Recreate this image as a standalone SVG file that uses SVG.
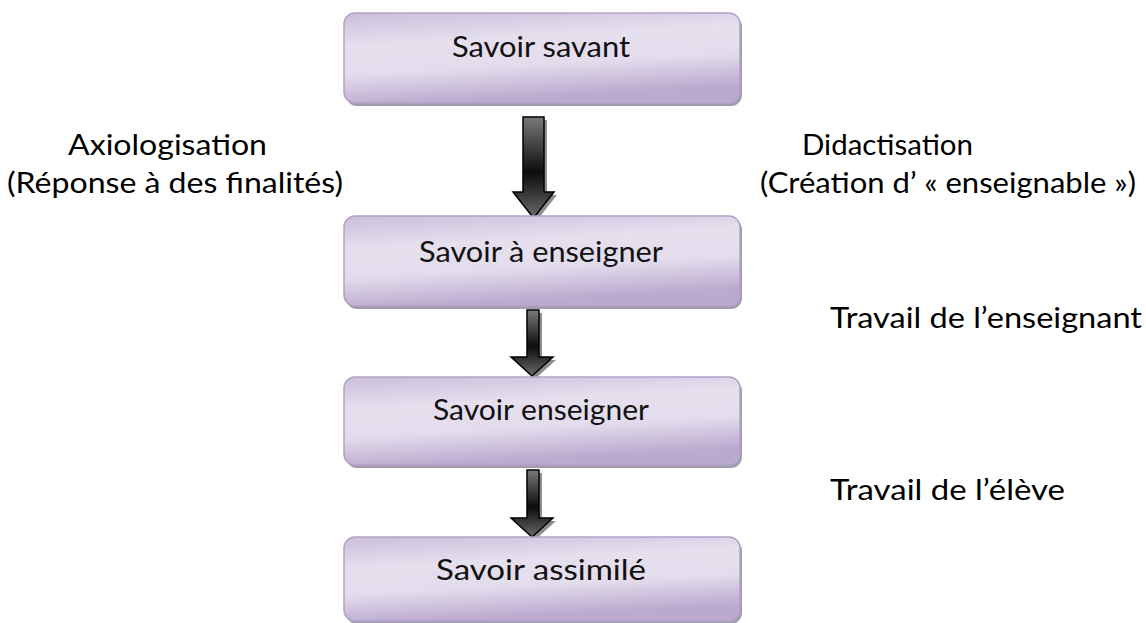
<svg xmlns="http://www.w3.org/2000/svg" width="1146" height="623" viewBox="0 0 1146 623">
  <defs>
    <linearGradient id="boxFill" x1="0" y1="0" x2="0.25" y2="1">
      <stop offset="0" stop-color="#cbbedb"/>
      <stop offset="0.35" stop-color="#e5dfee"/>
      <stop offset="0.65" stop-color="#e3dcec"/>
      <stop offset="1" stop-color="#bba9cf"/>
    </linearGradient>
    <linearGradient id="arrowFill" x1="0" y1="0" x2="0" y2="1">
      <stop offset="0" stop-color="#7a7a7a"/>
      <stop offset="0.55" stop-color="#0c0c0c"/>
      <stop offset="1" stop-color="#6a6a6a"/>
    </linearGradient>
  </defs>
  <style>
    .shadow { fill: #a19cab; }
    .box { fill: url(#boxFill); stroke: #b3a3c8; stroke-width: 1.5; }
    .label { font-family: Lato, "Open Sans", "Liberation Sans", sans-serif; font-size: 28px; fill: #111; }
    .side { font-family: Lato, "Open Sans", "Liberation Sans", sans-serif; font-size: 28px; fill: #000; }
    .arrow { fill: url(#arrowFill); stroke: #000; stroke-width: 1.5; stroke-linejoin: miter; }
    .arrow-shadow { fill: #8f8f8f; }
  </style>

  <rect width="1146" height="623" fill="#ffffff"/>

  <!-- connectors -->
  <g id="connectors">
    <g id="arrow-1">
      <path class="arrow-shadow" d="M526,120 H547 V195 H557 L536.5,221 L516,195 H526 Z"/>
      <path class="arrow" d="M523,117 H544 V192 H554 L533.5,218 L513,192 H523 Z"/>
    </g>
    <g id="arrow-2">
      <path class="arrow-shadow" d="M530,313 H542 V360 H556 L535,379 L514,360 H530 Z"/>
      <path class="arrow" d="M527,310 H539 V357 H553 L532,376 L511,357 H527 Z"/>
    </g>
    <g id="arrow-3">
      <path class="arrow-shadow" d="M530,473 H542 V521 H556 L535,540 L514,521 H530 Z"/>
      <path class="arrow" d="M527,470 H539 V518 H553 L532,537 L511,518 H527 Z"/>
    </g>
  </g>

  <!-- stages -->
  <g id="node-savant">
    <rect class="shadow" x="346" y="16" width="396" height="90" rx="11"/>
    <rect class="box" x="344" y="13" width="396" height="90" rx="11"/>
    <text class="label" x="541" y="57" text-anchor="middle" textLength="178" lengthAdjust="spacingAndGlyphs">Savoir savant</text>
  </g>
  <g id="node-a-enseigner">
    <rect class="shadow" x="346" y="219" width="396" height="90" rx="11"/>
    <rect class="box" x="344" y="216" width="396" height="90" rx="11"/>
    <text class="label" x="541" y="262" text-anchor="middle" textLength="244" lengthAdjust="spacingAndGlyphs">Savoir à enseigner</text>
  </g>
  <g id="node-enseigner">
    <rect class="shadow" x="346" y="380" width="396" height="88" rx="11"/>
    <rect class="box" x="344" y="377" width="396" height="88" rx="11"/>
    <text class="label" x="541" y="420" text-anchor="middle" textLength="216" lengthAdjust="spacingAndGlyphs">Savoir enseigner</text>
  </g>
  <g id="node-assimile">
    <rect class="shadow" x="346" y="540" width="396" height="84" rx="11"/>
    <rect class="box" x="344" y="537" width="396" height="84" rx="11"/>
    <text class="label" x="541" y="580" text-anchor="middle" textLength="210" lengthAdjust="spacingAndGlyphs">Savoir assimilé</text>
  </g>

  <!-- side annotations -->
  <g id="note-axiologisation">
    <text class="side" x="68" y="155" textLength="199" lengthAdjust="spacingAndGlyphs">Axiologisation</text>
    <text class="side" x="7" y="193" textLength="336" lengthAdjust="spacingAndGlyphs">(Réponse à des finalités)</text>
  </g>
  <g id="note-didactisation">
    <text class="side" x="802" y="155" textLength="171" lengthAdjust="spacingAndGlyphs">Didactisation</text>
    <text class="side" x="760" y="193" textLength="376" lengthAdjust="spacingAndGlyphs">(Création d’ « enseignable »)</text>
  </g>
  <g id="note-enseignant">
    <text class="side" x="830" y="328" textLength="312" lengthAdjust="spacingAndGlyphs">Travail de l’enseignant</text>
  </g>
  <g id="note-eleve">
    <text class="side" x="830" y="500" textLength="235" lengthAdjust="spacingAndGlyphs">Travail de l’élève</text>
  </g>
</svg>
